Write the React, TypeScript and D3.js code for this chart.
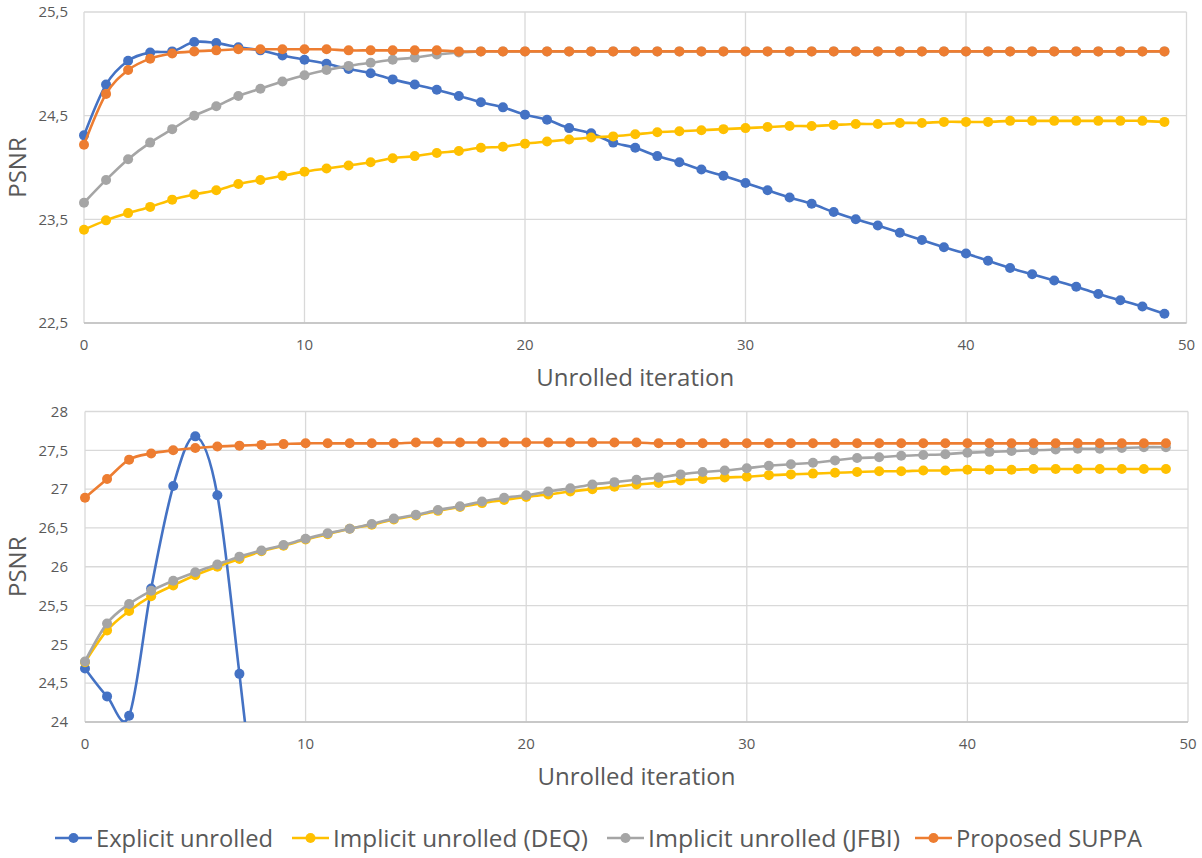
import React from 'react';
import * as d3 from 'd3';

// ---------- data ----------
const iterations = d3.range(50);
const seriesNames = ['Explicit unrolled', 'Implicit unrolled (DEQ)', 'Implicit unrolled (JFBI)', 'Proposed SUPPA'];
const seriesColors = ['#4472C4', '#FFC000', '#A5A5A5', '#ED7D31'];
const xTicks = [0, 10, 20, 30, 40, 50];
const topYTicks = [22.5, 23.5, 24.5, 25.5];
const bottomYTicks = [24, 24.5, 25, 25.5, 26, 26.5, 27, 27.5, 28];

// Top panel
const topExplicit = [24.31, 24.80, 25.03, 25.11, 25.12, 25.21, 25.20, 25.16, 25.13, 25.08,
  25.04, 25.00, 24.95, 24.91, 24.85, 24.80, 24.75, 24.69, 24.63, 24.58,
  24.51, 24.46, 24.38, 24.33, 24.24, 24.19, 24.11, 24.05, 23.98, 23.92,
  23.85, 23.78, 23.71, 23.65, 23.57, 23.50, 23.44, 23.37, 23.30, 23.23,
  23.17, 23.10, 23.03, 22.97, 22.91, 22.85, 22.78, 22.72, 22.66, 22.59];
const topDEQ = [23.40, 23.49, 23.56, 23.62, 23.69, 23.74, 23.78, 23.84, 23.88, 23.92,
  23.96, 23.99, 24.02, 24.05, 24.09, 24.11, 24.14, 24.16, 24.19, 24.20,
  24.23, 24.25, 24.27, 24.29, 24.30, 24.32, 24.34, 24.35, 24.36, 24.37,
  24.38, 24.39, 24.40, 24.40, 24.41, 24.42, 24.42, 24.43, 24.43, 24.44,
  24.44, 24.44, 24.45, 24.45, 24.45, 24.45, 24.45, 24.45, 24.45, 24.44];
const topJFBI = [23.66, 23.88, 24.08, 24.24, 24.37, 24.50, 24.59, 24.69, 24.76, 24.83,
  24.89, 24.94, 24.98, 25.01, 25.04, 25.06, 25.09, 25.11, 25.12, 25.12,
  25.12, 25.12, 25.12, 25.12, 25.12, 25.12, 25.12, 25.12, 25.12, 25.12,
  25.12, 25.12, 25.12, 25.12, 25.12, 25.12, 25.12, 25.12, 25.12, 25.12,
  25.12, 25.12, 25.12, 25.12, 25.12, 25.12, 25.12, 25.12, 25.12, 25.12];
const topSUPPA = [24.22, 24.71, 24.94, 25.05, 25.10, 25.12, 25.13, 25.14, 25.14, 25.14,
  25.14, 25.14, 25.13, 25.13, 25.13, 25.13, 25.13, 25.12, 25.12, 25.12,
  25.12, 25.12, 25.12, 25.12, 25.12, 25.12, 25.12, 25.12, 25.12, 25.12,
  25.12, 25.12, 25.12, 25.12, 25.12, 25.12, 25.12, 25.12, 25.12, 25.12,
  25.12, 25.12, 25.12, 25.12, 25.12, 25.12, 25.12, 25.12, 25.12, 25.12];

// Bottom panel
const bottomExplicit = [24.69, 24.33, 24.08, 25.72, 27.04, 27.68, 26.92, 24.62, 22.1];
const bottomDEQ = [24.77, 25.18, 25.43, 25.62, 25.76, 25.89, 26.00, 26.10, 26.20, 26.27,
  26.35, 26.42, 26.49, 26.54, 26.61, 26.66, 26.72, 26.77, 26.82, 26.86,
  26.90, 26.93, 26.97, 27.00, 27.03, 27.06, 27.08, 27.11, 27.13, 27.15,
  27.16, 27.18, 27.19, 27.20, 27.21, 27.22, 27.23, 27.23, 27.24, 27.24,
  27.25, 27.25, 27.25, 27.26, 27.26, 27.26, 27.26, 27.26, 27.26, 27.26];
const bottomJFBI = [24.78, 25.27, 25.52, 25.69, 25.82, 25.93, 26.03, 26.13, 26.21, 26.28,
  26.36, 26.43, 26.49, 26.55, 26.62, 26.67, 26.73, 26.78, 26.84, 26.89,
  26.92, 26.97, 27.01, 27.06, 27.09, 27.12, 27.15, 27.19, 27.22, 27.24,
  27.27, 27.30, 27.32, 27.34, 27.37, 27.40, 27.41, 27.43, 27.44, 27.45,
  27.47, 27.48, 27.49, 27.50, 27.51, 27.52, 27.52, 27.53, 27.54, 27.54];
const bottomSUPPA = [26.89, 27.13, 27.38, 27.46, 27.50, 27.53, 27.55, 27.56, 27.57, 27.58,
  27.59, 27.59, 27.59, 27.59, 27.59, 27.60, 27.60, 27.60, 27.60, 27.60,
  27.60, 27.60, 27.60, 27.60, 27.60, 27.60, 27.59, 27.59, 27.59, 27.59,
  27.59, 27.59, 27.59, 27.59, 27.59, 27.59, 27.59, 27.59, 27.59, 27.59,
  27.59, 27.59, 27.59, 27.59, 27.59, 27.59, 27.59, 27.59, 27.59, 27.59];

// ---------- styling ----------
const FONT = '"Open Sans", "Segoe UI", sans-serif';
const TEXT = '#595959';
const GRID = '#d9d9d9';
const AXIS = '#bfbfbf';
const MARKER_R = 5;
const LINE_W = 2.6;

type PanelProps = {
  id: string;
  left: number;
  right: number;
  top: number;
  bottom: number;
  yDomain: [number, number];
  yTicks: number[];
  series: number[][];
};

const fmt = (v: number) => String(v).replace('.', ',');

function Panel({ id, left, right, top, bottom, yDomain, yTicks, series }: PanelProps) {
  const x = d3.scaleLinear().domain([0, 50]).range([left, right]);
  const y = d3.scaleLinear().domain(yDomain).range([bottom, top]);
  const line = d3
    .line<number>()
    .x((_, i) => x(iterations[i]))
    .y((d) => y(d))
    .curve(d3.curveCatmullRom.alpha(0));
  return (
    <g>
      <defs>
        <clipPath id={id}>
          <rect x={0} y={top - 12} width={1202} height={bottom - top + 12} />
        </clipPath>
      </defs>
      {yTicks.map((t) => (
        <line key={'h' + t} x1={left} x2={right} y1={y(t)} y2={y(t)} stroke={GRID} strokeWidth={1.3} />
      ))}
      {xTicks.map((t) => (
        <line key={'v' + t} x1={x(t)} x2={x(t)} y1={top} y2={bottom} stroke={GRID} strokeWidth={1.3} />
      ))}
      <line x1={left} x2={right} y1={bottom} y2={bottom} stroke={AXIS} strokeWidth={1.5} />
      {yTicks.map((t) => (
        <text key={'yl' + t} x={68} y={y(t)} dy="0.35em" textAnchor="end" fontFamily={FONT} fontSize={15} fill={TEXT}>
          {fmt(t)}
        </text>
      ))}
      {xTicks.map((t) => (
        <text key={'xl' + t} x={x(t)} y={bottom + 22} dy="0.35em" textAnchor="middle" fontFamily={FONT} fontSize={15} fill={TEXT}>
          {t}
        </text>
      ))}
      <text
        transform={`translate(${18},${(top + bottom) / 2}) rotate(-90)`}
        dy="0.35em"
        textAnchor="middle"
        fontFamily={FONT}
        fontSize={24}
        fill={TEXT}
      >
        PSNR
      </text>
      <text x={(left + right) / 2} y={bottom + 63} textAnchor="middle" fontFamily={FONT} fontSize={24} fill={TEXT}>
        Unrolled iteration
      </text>
      <g clipPath={`url(#${id})`}>
        {series.map((s, si) => (
          <g key={si}>
            <path d={line(s) || ''} fill="none" stroke={seriesColors[si]} strokeWidth={LINE_W} strokeLinejoin="round" />
            {s.map((v, i) =>
              v >= yDomain[0] && v <= yDomain[1] ? (
                <circle key={i} cx={x(iterations[i])} cy={y(v)} r={MARKER_R} fill={seriesColors[si]} />
              ) : null
            )}
          </g>
        ))}
      </g>
    </g>
  );
}

const legendStarts = [55, 292, 607, 915];
const legendWidths = [177, 255, 252, 186];

export default function App() {
  return (
    <svg
      width={1202}
      height={858}
      style={{ position: 'absolute', left: 0, top: 0, background: '#fff' }}
    >
      <rect x={0} y={0} width={1202} height={858} fill="#fff" />
      <Panel
        id="clipTop"
        left={84}
        right={1186.5}
        top={12}
        bottom={323}
        yDomain={[22.5, 25.5]}
        yTicks={topYTicks}
        series={[topExplicit, topDEQ, topJFBI, topSUPPA]}
      />
      <Panel
        id="clipBottom"
        left={85}
        right={1188}
        top={411.5}
        bottom={722}
        yDomain={[24, 28]}
        yTicks={bottomYTicks}
        series={[bottomExplicit, bottomDEQ, bottomJFBI, bottomSUPPA]}
      />
      {seriesNames.map((name, i) => (
        <g key={name}>
          <line x1={legendStarts[i]} x2={legendStarts[i] + 37} y1={838} y2={838} stroke={seriesColors[i]} strokeWidth={LINE_W} />
          <circle cx={legendStarts[i] + 18.5} cy={838} r={MARKER_R} fill={seriesColors[i]} />
          <text
            x={legendStarts[i] + 41}
            y={847}
            fontFamily={FONT}
            fontSize={24}
            fill={TEXT}
            textLength={legendWidths[i]}
            lengthAdjust="spacingAndGlyphs"
          >
            {name}
          </text>
        </g>
      ))}
    </svg>
  );
}
